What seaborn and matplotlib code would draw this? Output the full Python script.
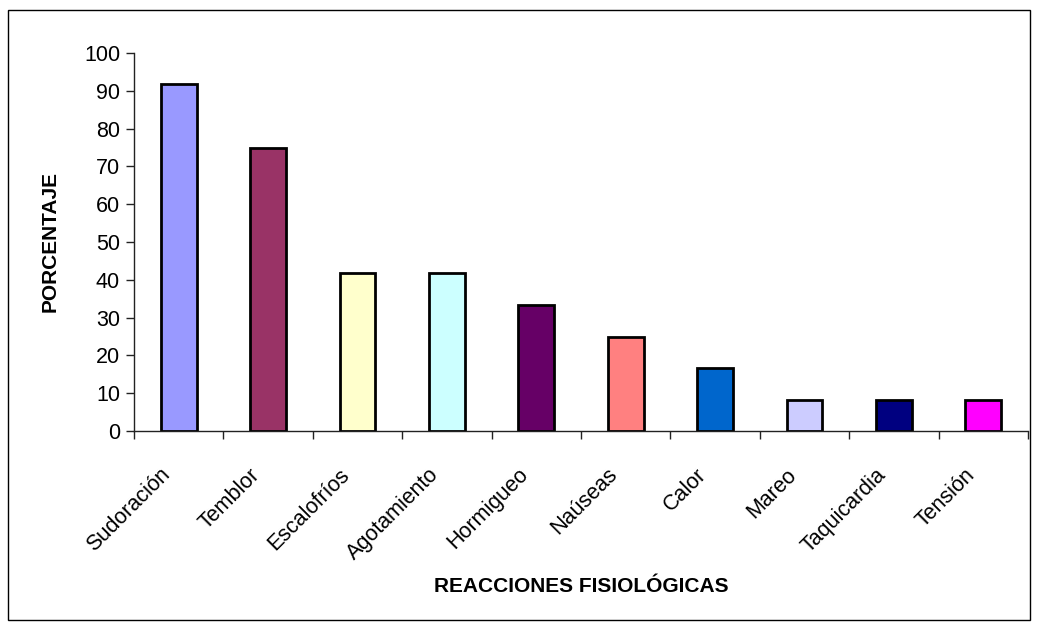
import matplotlib
matplotlib.use("Agg")
import matplotlib.pyplot as plt
import matplotlib.transforms as mtransforms
from matplotlib.patches import Rectangle
import seaborn as sns
import pandas as pd
import numpy as np

categories = ["Sudoración", "Temblor", "Escalofríos", "Agotamiento", "Hormigueo",
              "Naúseas", "Calor", "Mareo", "Taquicardia", "Tensión"]
values = [91.67, 75.0, 41.67, 41.67, 33.33, 25.0, 16.67, 8.33, 8.33, 8.33]
colors = ["#9999FF", "#993366", "#FFFFCC", "#CCFFFF", "#660066",
          "#FF8080", "#0066CC", "#CCCCFF", "#000080", "#FF00FF"]
yticks = [0, 10, 20, 30, 40, 50, 60, 70, 80, 90, 100]

sns.set_theme(style="white")
plt.rcParams["font.family"] = ["Liberation Sans", "DejaVu Sans"]
plt.rcParams["text.color"] = "black"
plt.rcParams["xtick.color"] = "black"
plt.rcParams["ytick.color"] = "black"
plt.rcParams["axes.labelcolor"] = "black"

df = pd.DataFrame({"cat": categories, "val": values})

fig = plt.figure(figsize=(10.39, 6.28), dpi=100)
ax = fig.add_axes([134/1039, 1-431/628, (1028-134)/1039, (431-53)/628])

sns.barplot(data=df, x="cat", y="val", hue="cat", palette=colors, legend=False,
            width=0.4, edgecolor="black", linewidth=2, ax=ax, saturation=1)

ax.set_xlim(-0.5, len(categories) - 0.5)
ax.set_ylim(0, 100)
ax.set_yticks(yticks)
ax.set_yticklabels([str(t) for t in yticks], fontsize=15.5)

for s in ["top", "right"]:
    ax.spines[s].set_visible(False)
for s in ["left", "bottom"]:
    ax.spines[s].set_color("#222222")
    ax.spines[s].set_linewidth(1.0)

ax.tick_params(axis="y", which="major", direction="out", length=6, width=1,
               color="#222222", left=True, pad=4)
ax.set_xticks(np.arange(len(categories)))
ax.set_xticks(np.arange(-0.5, len(categories)), minor=True)
ax.tick_params(axis="x", which="major", length=0, pad=24, bottom=True)
ax.tick_params(axis="x", which="minor", direction="out", length=6, width=1,
               color="#222222", bottom=True)
ax.set_xticklabels(categories, rotation=45, ha="right", va="top", fontsize=15.5)
offset = mtransforms.ScaledTranslation(-4/100, 0, fig.dpi_scale_trans)
for lab in ax.get_xticklabels():
    lab.set_transform(lab.get_transform() + offset)

ax.set_xlabel("")
ax.set_ylabel("")
fig.text(581/1039, 1-587/628, "REACCIONES FISIOLÓGICAS", ha="center", va="center",
         fontsize=15, fontweight="bold", color="black")
fig.text(50/1039, 1-242/628, "PORCENTAJE", ha="center", va="center",
         rotation=90, fontsize=15, fontweight="bold", color="black")
ax.grid(False)

fig.patches.append(Rectangle((8/1039, 1-620/628), (1030-8)/1039, (620-10)/628,
                             transform=fig.transFigure, fill=False,
                             edgecolor="black", linewidth=1))

fig.savefig("out.png", dpi=100)
